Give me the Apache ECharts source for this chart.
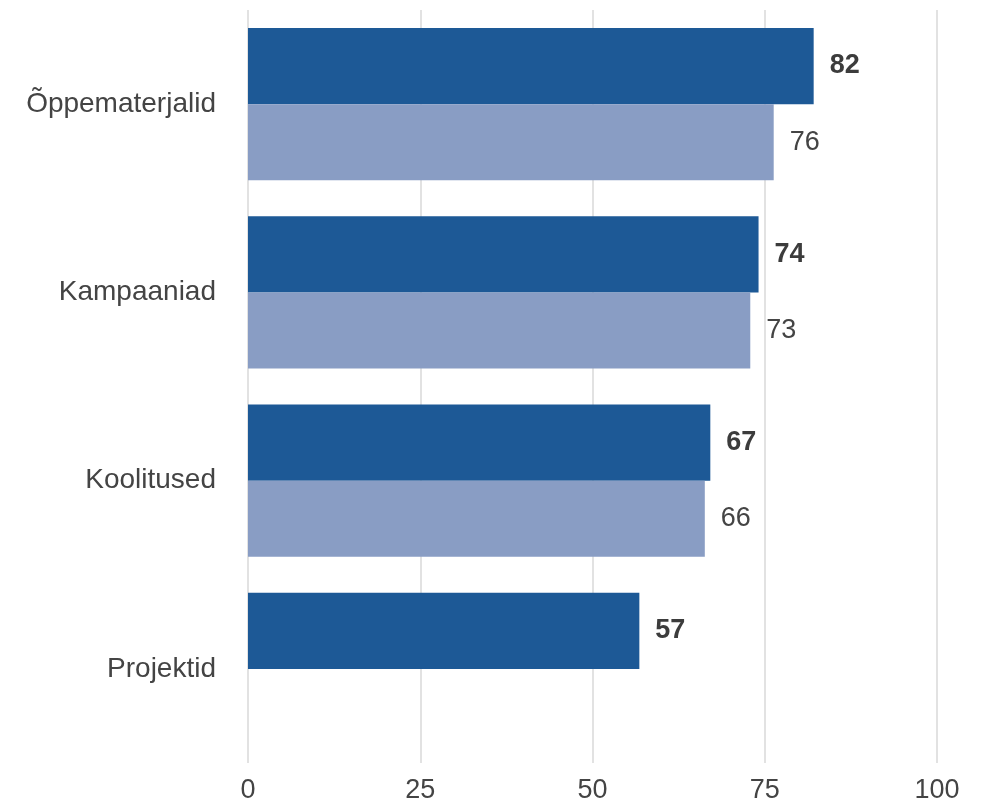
<!DOCTYPE html>
<html>
<head>
<meta charset="utf-8">
<script src="https://cdn.jsdelivr.net/npm/echarts@6/dist/echarts.min.js"></script>
<style>
  html, body { margin: 0; padding: 0; background: #fff; }
  #chart { width: 982px; height: 804px; }
</style>
</head>
<body>
<div id="chart"></div>
<script>
const categories = ['Õppematerjalid', 'Kampaaniad', 'Koolitused', 'Projektid'];
const darkValues = [82.1, 74.1, 67.1, 56.8];
const lightValues = [76.3, 72.9, 66.3, null];
const xTicks = [0, 25, 50, 75, 100];

const font = 'Liberation Sans, Arial, sans-serif';

const myChart = echarts.init(document.getElementById('chart'));

const option = {
    animation: false,
    backgroundColor: '#ffffff',
    grid: { left: 248, right: 45, top: 10, bottom: 41 },
    xAxis: {
        type: 'value',
        min: xTicks[0],
        max: xTicks[xTicks.length - 1],
        interval: 25,
        axisLine: { show: false },
        axisTick: { show: false },
        splitLine: { lineStyle: { color: '#e2e2e2', width: 2 } },
        axisLabel: { color: '#444', fontSize: 27, fontFamily: font, margin: 14 }
    },
    yAxis: {
        type: 'category',
        inverse: true,
        data: categories,
        axisLine: { show: false },
        axisTick: { show: false },
        axisLabel: { color: '#444', fontSize: 28, fontFamily: font, margin: 32, padding: [0, 0, 4, 0] }
    },
    series: [
        {
            type: 'bar',
            data: darkValues,
            barGap: '0%',
            barCategoryGap: '19%',
            itemStyle: { color: '#1d5996' },
            label: {
                show: true,
                position: 'right',
                distance: 16,
                color: '#3c3c3c',
                fontSize: 27,
                fontWeight: 'bold',
                fontFamily: font,
                formatter: p => Math.round(p.value)
            }
        },
        {
            type: 'bar',
            data: lightValues,
            barGap: '0%',
            barCategoryGap: '19%',
            itemStyle: { color: '#899dc4' },
            label: {
                show: true,
                position: 'right',
                distance: 16,
                color: '#444',
                fontSize: 27,
                fontFamily: font,
                formatter: p => Math.round(p.value)
            }
        }
    ]
};

myChart.setOption(option);
</script>
</body>
</html>
